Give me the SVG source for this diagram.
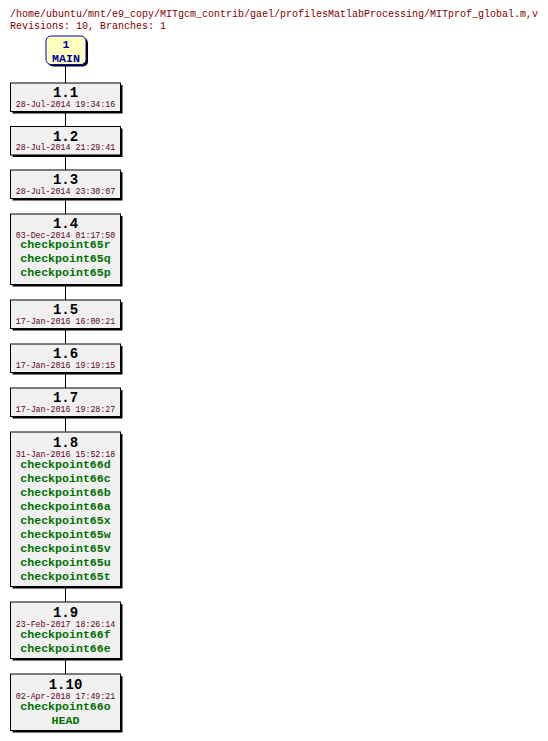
<svg xmlns="http://www.w3.org/2000/svg" width="548" height="741" viewBox="0 0 548 741">
<style>
.hdr{font-family:"Liberation Mono","DejaVu Sans Mono",monospace;font-size:10px;fill:#800000}
.ver{font-family:"Liberation Mono","DejaVu Sans Mono",monospace;font-size:14px;font-weight:bold;fill:#000;text-anchor:middle}
.date{font-family:"Liberation Mono","DejaVu Sans Mono",monospace;font-size:8.3px;fill:#600020;text-anchor:middle}
.tag{font-family:"Liberation Mono","DejaVu Sans Mono",monospace;font-size:11.6px;font-weight:bold;fill:#007000;text-anchor:middle}
.main{font-family:"Liberation Mono","DejaVu Sans Mono",monospace;font-size:11.6px;font-weight:bold;fill:#0000a0;text-anchor:middle}
.box{fill:#f0f0f0;stroke:#000;stroke-width:1}
.sh{fill:#000}
.ln{stroke:#000;stroke-width:1;fill:none}
</style>
<rect width="548" height="741" fill="#fff"/>
<text class="hdr" x="10" y="17">/home/ubuntu/mnt/e9_copy/MITgcm_contrib/gael/profilesMatlabProcessing/MITprof_global.m,v</text>
<text class="hdr" x="10" y="28.5">Revisions: 10, Branches: 1</text>
<g id="connectors">
<line class="ln" x1="65.5" y1="65" x2="65.5" y2="83"/>
<line class="ln" x1="65.5" y1="111.5" x2="65.5" y2="126.5"/>
<line class="ln" x1="65.5" y1="155" x2="65.5" y2="170"/>
<line class="ln" x1="65.5" y1="198.5" x2="65.5" y2="214"/>
<line class="ln" x1="65.5" y1="284.5" x2="65.5" y2="300"/>
<line class="ln" x1="65.5" y1="328.5" x2="65.5" y2="344"/>
<line class="ln" x1="65.5" y1="372.5" x2="65.5" y2="388"/>
<line class="ln" x1="65.5" y1="416.5" x2="65.5" y2="432"/>
<line class="ln" x1="65.5" y1="586.5" x2="65.5" y2="602"/>
<line class="ln" x1="65.5" y1="658.5" x2="65.5" y2="674"/>
</g>
<g id="main">
<rect x="48" y="38" width="40" height="28.5" rx="5" class="sh"/>
<rect x="46" y="36" width="40" height="28.5" rx="5" fill="#ffffc0" stroke="#0000c0" stroke-width="1"/>
<text class="main" x="66" y="48">1</text>
<text class="main" x="66" y="61.5">MAIN</text>
</g>
<g id="r1_1">
<rect class="sh" x="12.5" y="85" width="110" height="28.5"/>
<rect class="box" x="10.5" y="83" width="110" height="28.5"/>
<text class="ver" x="65.5" y="97">1.1</text>
<text class="date" x="65.5" y="106.5">28-Jul-2014 19:34:16</text>
</g>
<g id="r1_2">
<rect class="sh" x="12.5" y="128.5" width="110" height="28.5"/>
<rect class="box" x="10.5" y="126.5" width="110" height="28.5"/>
<text class="ver" x="65.5" y="140.5">1.2</text>
<text class="date" x="65.5" y="150">28-Jul-2014 21:29:41</text>
</g>
<g id="r1_3">
<rect class="sh" x="12.5" y="172" width="110" height="28.5"/>
<rect class="box" x="10.5" y="170" width="110" height="28.5"/>
<text class="ver" x="65.5" y="184">1.3</text>
<text class="date" x="65.5" y="193.5">28-Jul-2014 23:30:07</text>
</g>
<g id="r1_4">
<rect class="sh" x="12.5" y="216" width="110" height="70.5"/>
<rect class="box" x="10.5" y="214" width="110" height="70.5"/>
<text class="ver" x="65.5" y="228">1.4</text>
<text class="date" x="65.5" y="237.5">03-Dec-2014 01:17:50</text>
<text class="tag" x="65.5" y="248">checkpoint65r</text>
<text class="tag" x="65.5" y="262">checkpoint65q</text>
<text class="tag" x="65.5" y="276">checkpoint65p</text>
</g>
<g id="r1_5">
<rect class="sh" x="12.5" y="302" width="110" height="28.5"/>
<rect class="box" x="10.5" y="300" width="110" height="28.5"/>
<text class="ver" x="65.5" y="314">1.5</text>
<text class="date" x="65.5" y="323.5">17-Jan-2016 16:00:21</text>
</g>
<g id="r1_6">
<rect class="sh" x="12.5" y="346" width="110" height="28.5"/>
<rect class="box" x="10.5" y="344" width="110" height="28.5"/>
<text class="ver" x="65.5" y="358">1.6</text>
<text class="date" x="65.5" y="367.5">17-Jan-2016 19:19:15</text>
</g>
<g id="r1_7">
<rect class="sh" x="12.5" y="390" width="110" height="28.5"/>
<rect class="box" x="10.5" y="388" width="110" height="28.5"/>
<text class="ver" x="65.5" y="402">1.7</text>
<text class="date" x="65.5" y="411.5">17-Jan-2016 19:28:27</text>
</g>
<g id="r1_8">
<rect class="sh" x="12.5" y="434" width="110" height="154.5"/>
<rect class="box" x="10.5" y="432" width="110" height="154.5"/>
<text class="ver" x="65.5" y="447">1.8</text>
<text class="date" x="65.5" y="456.5">31-Jan-2016 15:52:18</text>
<text class="tag" x="65.5" y="468">checkpoint66d</text>
<text class="tag" x="65.5" y="482">checkpoint66c</text>
<text class="tag" x="65.5" y="496">checkpoint66b</text>
<text class="tag" x="65.5" y="510">checkpoint66a</text>
<text class="tag" x="65.5" y="524">checkpoint65x</text>
<text class="tag" x="65.5" y="538">checkpoint65w</text>
<text class="tag" x="65.5" y="552">checkpoint65v</text>
<text class="tag" x="65.5" y="566">checkpoint65u</text>
<text class="tag" x="65.5" y="580">checkpoint65t</text>
</g>
<g id="r1_9">
<rect class="sh" x="12.5" y="604" width="110" height="56.5"/>
<rect class="box" x="10.5" y="602" width="110" height="56.5"/>
<text class="ver" x="65.5" y="617">1.9</text>
<text class="date" x="65.5" y="626.5">23-Feb-2017 18:26:14</text>
<text class="tag" x="65.5" y="638">checkpoint66f</text>
<text class="tag" x="65.5" y="652">checkpoint66e</text>
</g>
<g id="r1_10">
<rect class="sh" x="12.5" y="676" width="110" height="56.5"/>
<rect class="box" x="10.5" y="674" width="110" height="56.5"/>
<text class="ver" x="65.5" y="689">1.10</text>
<text class="date" x="65.5" y="698.5">02-Apr-2018 17:49:21</text>
<text class="tag" x="65.5" y="710">checkpoint66o</text>
<text class="tag" x="65.5" y="724">HEAD</text>
</g>
</svg>
